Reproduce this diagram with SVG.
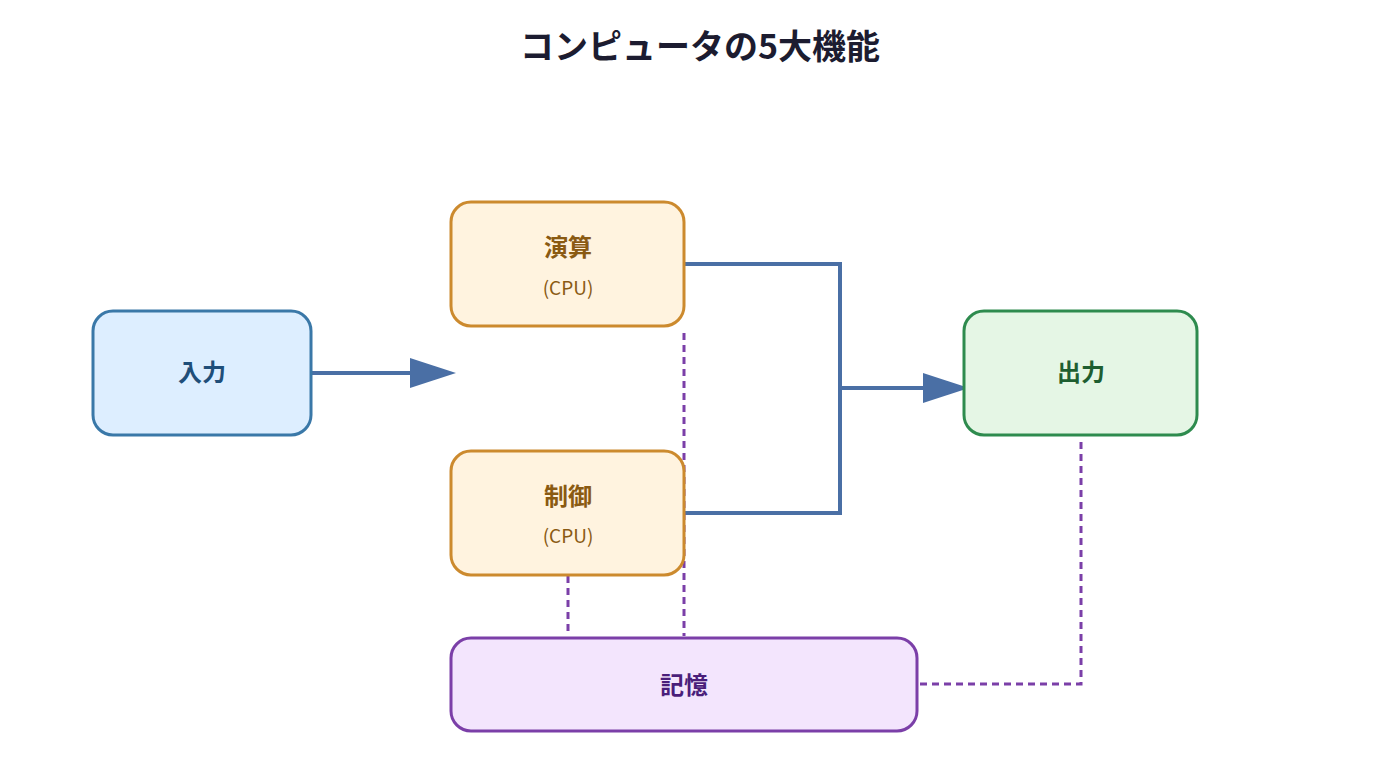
<svg xmlns="http://www.w3.org/2000/svg" width="1400" height="778" viewBox="0 0 1400 778">
<style>
text{font-family:"Noto Sans CJK JP","Noto Sans",sans-serif;text-anchor:middle}
.title{font-size:34px;font-weight:700;fill:#1c1c30}
.lbl{font-size:24px;font-weight:700}
.sub{font-size:19px;font-weight:400}
.box{stroke-width:3}
.in{fill:#ddeeff;stroke:#3a78a8}
.cpu{fill:#fff3df;stroke:#cc8a2e}
.out{fill:#e5f6e5;stroke:#2e8b4e}
.mem{fill:#f3e5fd;stroke:#7b3fa8}
.flow{fill:none;stroke:#4a6fa5;stroke-width:4}
.dash{fill:none;stroke:#7b3fa8;stroke-width:3;stroke-dasharray:7 5}
</style>
<defs>
<marker id="ah" markerWidth="46" markerHeight="32" refX="0" refY="16" orient="auto" markerUnits="userSpaceOnUse">
<path d="M0,1 L46,16 L0,31 Z" fill="#4a6fa5"/>
</marker>
</defs>
<text class="title" x="700" y="59">コンピュータの5大機能</text>
<g id="connectors">
<path class="flow" d="M311,373 H410" marker-end="url(#ah)"/>
<path class="flow" d="M684,264 H840 V513 H684"/>
<path class="flow" d="M840,388 H923" marker-end="url(#ah)"/>
<path class="dash" d="M684,333 V636"/>
<path class="dash" d="M568,576 V636"/>
<path class="dash" d="M1081,442 V684 H918"/>
</g>
<g id="input">
<rect class="box in" x="93" y="311" width="218" height="124" rx="20"/>
<text class="lbl" x="202" y="381" fill="#1f4e79">入力</text>
</g>
<g id="alu">
<rect class="box cpu" x="451" y="202" width="233" height="124" rx="20"/>
<text class="lbl" x="568" y="256" fill="#8a5a12">演算</text>
<text class="sub" x="568" y="295" fill="#8a5a12">(CPU)</text>
</g>
<g id="control">
<rect class="box cpu" x="451" y="451" width="233" height="124" rx="20"/>
<text class="lbl" x="568" y="505" fill="#8a5a12">制御</text>
<text class="sub" x="568" y="543" fill="#8a5a12">(CPU)</text>
</g>
<g id="output">
<rect class="box out" x="964" y="311" width="233" height="124" rx="20"/>
<text class="lbl" x="1081" y="381" fill="#1e5e30">出力</text>
</g>
<g id="memory">
<rect class="box mem" x="451" y="638" width="466" height="93" rx="20"/>
<text class="lbl" x="684" y="694" fill="#4a1e7a">記憶</text>
</g>
</svg>
